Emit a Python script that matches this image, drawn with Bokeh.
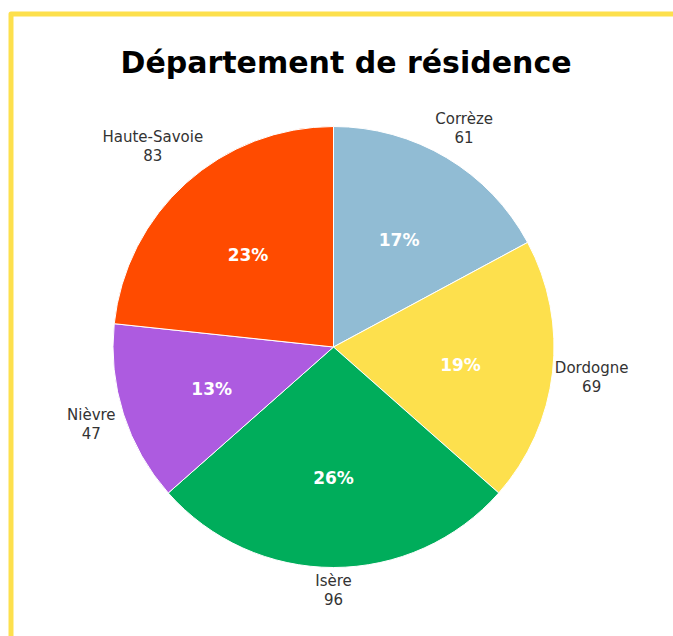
import math
from bokeh.plotting import figure
from bokeh.models import ColumnDataSource, Range1d, Label
from bokeh.core.properties import value
from bokeh.embed import file_html
from bokeh.resources import INLINE

# ---- data ----
categories = ["Corrèze", "Dordogne", "Isère", "Nièvre", "Haute-Savoie"]
counts = [61, 69, 96, 47, 83]
pct_labels = ["17%", "19%", "26%", "13%", "23%"]
colors = ["#91BCD4", "#FDE04D", "#00AD5B", "#AD5BE0", "#FF4B00"]
title_text = "Département de résidence"

# ---- layout (pixel units, 1 data unit = 1 px) ----
W, H = 673, 636
cx, cy = 333.0, H - 346.5
R = 220.5
FONT = "DejaVu Sans"
LBL_SIZE = 15
LINE_GAP = 18

p = figure(width=W, height=H, output_backend="svg", toolbar_location=None,
           x_range=Range1d(0, W), y_range=Range1d(0, H),
           x_axis_location=None, y_axis_location=None,
           min_border=0, outline_line_color=None)
p.grid.visible = False
p.background_fill_color = "white"
p.border_fill_color = "white"

total = sum(counts)
starts, ends, mids = [], [], []
cum = 0.0
for v in counts:
    a0 = math.pi / 2 - 2 * math.pi * cum / total
    cum += v
    a1 = math.pi / 2 - 2 * math.pi * cum / total
    starts.append(a1)
    ends.append(a0)
    mids.append((a0 + a1) / 2)

src = ColumnDataSource(dict(start=starts, end=ends, color=colors,
                            x=[cx] * len(counts), y=[cy] * len(counts)))
p.wedge(x="x", y="y", radius=R, start_angle="start", end_angle="end",
        direction="anticlock", fill_color="color", line_color="white",
        line_width=1, source=src)

# percentage labels inside
pr = 0.58 * R
psrc = ColumnDataSource(dict(x=[cx + pr * math.cos(a) for a in mids],
                             y=[cy + pr * math.sin(a) for a in mids],
                             t=pct_labels))
p.text(x="x", y="y", text="t", source=psrc, text_color="white",
       text_font=value(FONT), text_font_style="bold", text_font_size="17px",
       text_align="center", text_baseline="middle", y_offset=3)

# outside labels: place box just outside the circle along mid angle
def box_dist(d, a, hw, hh):
    bx, by = d * math.cos(a), d * math.sin(a)
    dx = max(abs(bx) - hw, 0.0)
    dy = max(abs(by) - hh, 0.0)
    return math.hypot(dx, dy)

gap = 5.0
nx, ny, vx, vy, nt, vt = [], [], [], [], [], []
for name, v, a in zip(categories, counts, mids):
    hw = len(name) * 0.55 * LBL_SIZE / 2
    hh = 17.5
    lo, hi = R, R + 200
    for _ in range(60):
        m = (lo + hi) / 2
        if box_dist(m, a, hw, hh) < R + gap:
            lo = m
        else:
            hi = m
    bx, by = cx + hi * math.cos(a), cy + hi * math.sin(a)
    nx.append(bx); ny.append(by + LINE_GAP / 2)
    vx.append(bx); vy.append(by - LINE_GAP / 2)
    nt.append(name); vt.append(str(v))

lsrc = ColumnDataSource(dict(x=nx + vx, y=ny + vy, t=nt + vt))
p.text(x="x", y="y", text="t", source=lsrc, text_color="#333333",
       text_font=value(FONT), text_font_size=f"{LBL_SIZE}px",
       text_align="center", text_baseline="middle")

# title
p.add_layout(Label(x=345.5, y=H - 62, text=title_text, text_font=FONT,
                   text_font_style="bold", text_font_size="30px",
                   text_color="black", text_align="center",
                   text_baseline="alphabetic"))

# yellow frame (top + left)
p.line(x=[10.5, 10.5, W + 20], y=[-20, H - 13.5, H - 13.5], line_color="#FDE04D",
       line_width=5, line_join="round")

open("out.html", "w").write(file_html(p, INLINE))
